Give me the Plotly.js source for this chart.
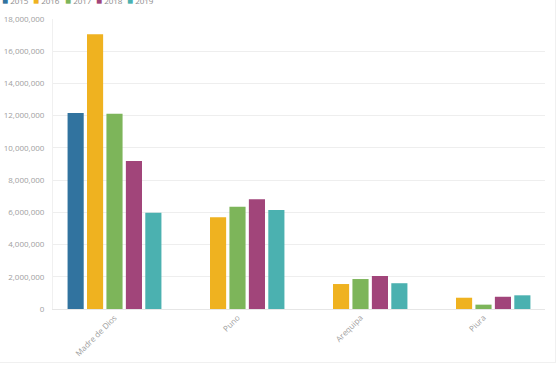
<!DOCTYPE html>
<html>
<head>
<meta charset="utf-8">
<script src="https://cdn.plot.ly/plotly-3.0.1.min.js"></script>
<style>
html,body{margin:0;padding:0;background:#fff;overflow:hidden;}
#frame{position:absolute;left:0;top:0;width:555px;height:362px;border-right:1px solid #f0f0f0;border-bottom:1px solid #f0f0f0;}
#chart{position:absolute;left:0;top:-7px;width:560px;height:374px;}
</style>
</head>
<body>
<div id="frame"></div>
<div id="chart"></div>
<script>
const categories = ["Madre de Dios", "Puno", "Arequipa", "Piura"];
const seriesNames = ["2015", "2016", "2017", "2018", "2019"];
const v2015 = [12170000, null, null, null];
const v2016 = [17050000, 5690000, 1550000, 700000];
const v2017 = [12120000, 6350000, 1860000, 270000];
const v2018 = [9190000, 6810000, 2050000, 760000];
const v2019 = [5980000, 6150000, 1600000, 850000];
const colors = ["#31739f", "#efb220", "#7db55a", "#a1457a", "#4bb1b0"];
const yTicks = [0, 2000000, 4000000, 6000000, 8000000, 10000000, 12000000, 14000000, 16000000, 18000000];

const values = [v2015, v2016, v2017, v2018, v2019];
const traces = seriesNames.map((n, i) => ({
  type: "bar", name: n, x: categories, y: values[i],
  marker: {color: colors[i]}, hoverinfo: "x+y+name"
}));

const annotations = seriesNames.map((n, i) => ({
  xref: "paper", yref: "paper", x: -0.107 + i * 0.0633, y: 1, yshift: 19,
  xanchor: "left", yanchor: "middle", showarrow: false,
  text: '<span style="color:' + colors[i] + ';font-size:10px">■</span> ' + n,
  font: {family: "Open Sans, sans-serif", size: 8, color: "#8a8a8a"}
}));

const layout = {
  width: 560, height: 374,
  margin: {l: 52.5, r: 15, t: 26, b: 58, pad: 0},
  paper_bgcolor: "rgba(0,0,0,0)", plot_bgcolor: "rgba(0,0,0,0)",
  barmode: "group", bargap: 0.21, bargroupgap: 0.17,
  showlegend: false,
  font: {family: "Open Sans, sans-serif", size: 8, color: "#a0a0a0"},
  xaxis: {
    tickangle: -45, showgrid: false, showline: true, linecolor: "#e6e6e6", linewidth: 1,
    ticks: "", tickfont: {size: 8, color: "#a0a0a0"}, automargin: false
  },
  yaxis: {
    range: [0, 18000000], tickvals: yTicks, tickformat: ",d",
    showgrid: true, gridcolor: "#eeeeee", gridwidth: 1, zeroline: false,
    showline: true, linecolor: "#f0f0f0", ticks: "", ticklabelstandoff: 6,
    tickfont: {size: 8, color: "#a0a0a0"}, automargin: false
  },
  annotations: annotations
};

Plotly.newPlot("chart", traces, layout, {displayModeBar: false, staticPlot: true});
</script>
</body>
</html>
